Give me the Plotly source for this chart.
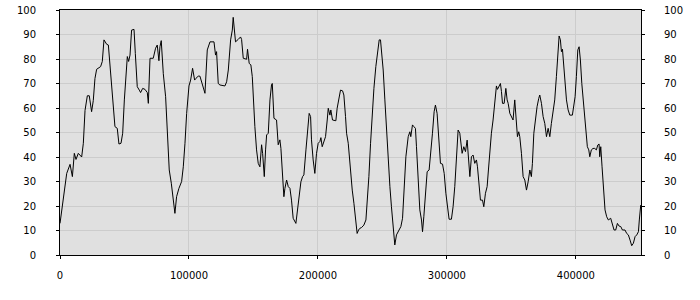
import plotly.graph_objects as go

x_vals = [0, 2600, 5200, 7800, 9600, 11100, 12400, 14200, 16800, 18100, 19400, 21200, 22700, 24500,
          25800, 27100, 28400, 31500, 32800, 34100, 36200, 37500, 38800, 40000, 41300, 42600, 44400,
          45700, 47300, 48600, 49900, 51200, 52200, 53200, 54300, 55500, 57400, 58400, 59900, 61500,
          62500, 64100, 65900, 67700, 68500, 69800, 72300, 74100, 75400, 76700, 77500, 78500, 80100,
          81900, 83200, 84700, 86300, 87800, 89100, 90400, 92200, 94300, 95600, 96900, 98200, 100000,
          101300, 102800, 104400, 105400, 107200,
          108500, 111100, 112400, 114200, 116300, 119400, 120600, 121400, 122700, 124000, 127900,
          129200, 130500, 132300, 133600, 134300, 135400, 136100, 138200, 140000, 140800, 142100,
          144700, 145400, 146700, 148000, 149100, 149800, 151100, 152400, 153700, 155000, 156300,
          157100, 158400, 159400, 160200, 161500, 162800, 164000, 164600, 165900, 167900, 169200,
          170500, 171300, 172300, 173600, 174400, 175700, 177000, 178300, 179500, 180800, 182900,
          183900, 185200, 186800, 188100, 189100, 190700, 191900, 193200, 194300, 195000, 196300,
          197600, 198900, 200200, 201500, 202300, 203300, 204600, 205900, 207200, 208000, 209300,
          210000, 211300, 213900, 214900, 216500, 217500, 219100, 220100, 221400, 222200, 223500,
          225300, 226600, 227900, 229100, 230400, 231500, 232500,
          233800, 235600, 237200, 238200, 239500, 240800, 242100, 243400, 244900, 246200, 247500,
          248500, 249300, 250600, 251900, 253200, 254500, 255800, 257000, 258300, 259600, 260900,
          262700, 264300, 265600, 266900, 268200, 270000, 271300, 272000, 273300, 274400, 275600,
          276400, 277700, 279000, 280300, 281100, 282100, 283400, 284700, 286200, 287300, 288800,
          290100, 291100, 292400, 293700, 295000, 296600, 297900, 299200, 300400, 301700, 303500,
          304800, 306100, 307400, 308700, 310000, 311000, 311800, 313100, 314400, 315700, 316500,
          317800, 319000, 320300, 321600, 322900, 323700, 325000, 326000, 327600, 328600, 329900,
          331200, 332200,
          333300, 334500, 335800, 337100, 338400, 339200, 340200, 341500, 342300, 343100, 344400,
          345700, 346700, 347500, 348800, 350000, 351300, 352600, 353400, 354700, 355700, 356500,
          357800, 359100, 360400, 361700, 363000, 364300, 365500, 366300, 367400, 368600, 369900,
          371200, 372000, 373300, 374600, 375900, 377200, 378500, 379800, 381000, 382300, 383600,
          384900, 386200, 387000, 388000, 388800, 389600, 390600, 391600, 392700, 394000, 395300,
          397300, 398400, 399400, 400400, 401500, 402500, 403500, 404600, 406100, 407700, 408900,
          410000, 410800, 412000, 413300, 414600, 415900, 417000, 418000, 418500, 419300, 420300,
          421600, 422600, 423900, 425200, 427000, 428600, 429600, 430900, 432200, 433500, 434800,
          436100, 438100, 439400, 440700, 442000, 443300, 444600, 445900, 447200, 448500, 449200,
          449800, 450300]

y_vals = [12.9, 23.8, 33.3, 37.0, 32.0, 41.5, 39.0, 41.5, 40.0, 45.6, 59.0, 65.0, 65.0, 58.5,
          63.0, 72.0, 75.8, 76.9, 79.0, 87.8, 86.0, 85.7, 76.9, 68.7, 60.5, 52.4, 51.7,
          45.3, 45.6, 49.7, 63.3, 71.4, 81.0, 79.0, 81.6, 91.8, 92.1, 82.3, 68.7, 67.3,
          66.3, 68.0, 67.6, 66.3, 61.9, 80.3, 80.3, 84.4, 85.7, 79.3, 85.0, 87.5, 74.0,
          64.6, 49.7, 34.7, 29.3, 21.1, 17.0, 23.8, 27.2, 30.0, 36.0, 45.6, 57.8, 69.0,
          71.4, 76.2, 71.4, 72.1, 73.0,
          73.0, 68.0, 66.0, 83.7, 87.0, 87.0, 81.6, 83.0, 70.0, 69.4, 69.0,
          70.7, 75.5, 87.8, 91.8, 97.0, 91.2, 87.0, 88.0, 89.0, 88.0, 80.3,
          79.9, 84.0, 78.2, 77.6, 72.8, 63.3, 52.4, 42.9, 37.4, 36.0, 45.0,
          41.5, 32.0, 42.9, 49.0, 49.7, 63.3, 69.4, 70.0, 55.8, 55.1, 45.0,
          47.0, 43.5, 36.0, 23.8, 27.2, 30.6, 27.9, 27.2, 22.4, 15.0, 12.9,
          17.0, 21.1, 29.9, 32.0, 32.7, 42.9, 49.7, 57.8, 56.5, 47.0, 38.8,
          33.3, 41.5, 45.6, 46.3, 47.9, 44.2, 46.3, 48.3, 55.1, 59.9, 57.1,
          59.2, 55.1, 54.8, 59.9, 64.6, 67.3, 67.0, 65.3, 56.5, 49.7, 45.6,
          33.3, 26.5, 21.1, 15.0, 8.8, 10.2, 10.9,
          11.2, 12.2, 14.3, 21.1, 32.0, 45.6, 59.2, 68.0, 76.9, 82.3, 87.8,
          87.8, 83.7, 75.5, 63.3, 49.7, 40.1, 27.9, 19.7, 10.2, 4.1, 8.2,
          10.2, 11.6, 15.0, 27.9, 40.1, 48.3, 50.3, 48.3, 53.1, 52.4, 51.7,
          44.2, 33.3, 18.4, 14.3, 9.5, 15.6, 26.5, 34.0, 34.7, 40.1, 49.7,
          58.5, 61.2, 57.8, 45.6, 37.4, 37.1, 33.3, 25.2, 19.0, 14.6, 14.6,
          19.7, 27.9, 41.5, 51.0, 49.7, 45.6, 41.5, 44.2, 42.2, 46.9, 40.1,
          32.0, 40.1, 40.8, 37.4, 38.8, 36.0, 27.9, 22.4, 22.4, 19.7, 25.2,
          27.9, 34.7,
          42.9, 49.7, 55.1, 63.3, 69.0, 67.6, 69.0, 70.0, 66.7, 61.9, 61.9,
          68.0, 63.3, 61.9, 57.8, 56.5, 55.1, 63.3, 56.5, 48.3, 50.3, 48.3,
          41.5, 32.0, 30.6, 26.5, 29.9, 34.7, 32.0, 37.4, 49.7, 55.1, 60.5,
          63.9, 65.3, 61.9, 56.5, 53.7, 48.3, 51.7, 48.3, 53.7, 57.8, 63.3,
          72.8, 82.3, 89.4, 87.8, 83.0, 84.0, 78.2, 70.0, 63.3, 59.2, 57.1,
          57.1, 60.5, 64.6, 72.8, 83.7, 85.0, 79.6, 70.0, 60.5, 52.4, 44.2,
          42.9, 40.1, 42.9, 43.5, 43.5, 42.9, 44.9, 45.3, 40.1, 44.2, 36.0,
          25.2, 18.4, 15.6, 14.3, 15.0, 11.6, 10.2, 10.2, 12.9, 11.8, 11.6,
          10.2, 10.2, 8.8, 8.2, 6.1, 3.8, 4.8, 7.5, 8.2, 9.5, 14.3,
          18.4, 20.4]

x_ticks = [0, 100000, 200000, 300000, 400000]
y_ticks = [0, 10, 20, 30, 40, 50, 60, 70, 80, 90, 100]

font = dict(family="DejaVu Sans, Verdana, sans-serif", size=10, color="#000000")

fig = go.Figure()
fig.add_trace(go.Scatter(x=x_vals, y=y_vals, mode="lines",
                         line=dict(color="#000000", width=1), hoverinfo="skip"))
fig.add_trace(go.Scatter(x=[x_vals[0]], y=[y_vals[0]], mode="markers", yaxis="y2",
                         marker=dict(opacity=0), hoverinfo="skip"))

fig.update_layout(
    width=700, height=300,
    margin=dict(l=60, r=59, t=10, b=45),
    paper_bgcolor="#ffffff", plot_bgcolor="#e0e0e0",
    showlegend=False, font=font,
    xaxis=dict(range=[0, 450500], tickvals=x_ticks, ticktext=[str(v) for v in x_ticks],
               showgrid=True, gridcolor="#cccccc", gridwidth=1, zeroline=False,
               showline=True, linecolor="#000000", linewidth=1, mirror=True,
               ticks="outside", ticklen=3, tickcolor="#000000", ticklabelstandoff=8,
               tickfont=font, automargin=False),
    yaxis=dict(range=[0, 100], tickvals=y_ticks, showgrid=True, gridcolor="#cccccc",
               gridwidth=1, zeroline=False, showline=True, linecolor="#000000", linewidth=1,
               ticks="outside", ticklen=3, tickcolor="#000000", ticklabelstandoff=18,
               tickfont=font, automargin=False),
    yaxis2=dict(range=[0, 100], tickvals=y_ticks, overlaying="y", side="right",
                showgrid=False, zeroline=False, showline=True, linecolor="#000000",
                linewidth=1, ticks="outside", ticklen=3, tickcolor="#000000",
                ticklabelstandoff=17, tickfont=font, automargin=False),
)

fig.write_html("out.html")
